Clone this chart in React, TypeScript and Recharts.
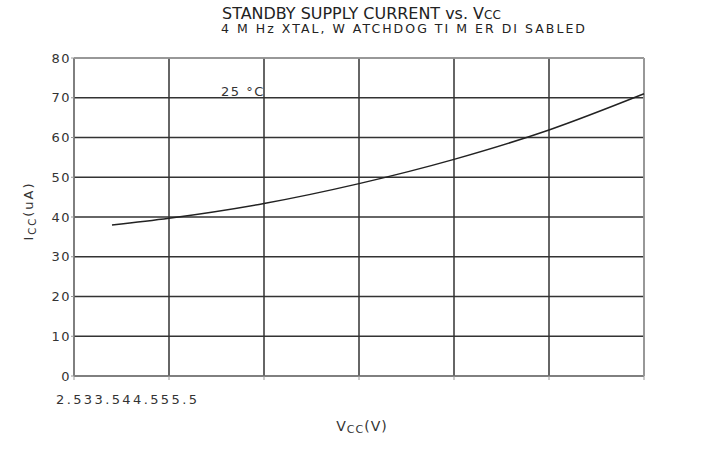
import React from "react";
import {
  LineChart,
  Line,
  XAxis,
  YAxis,
  CartesianGrid,
  ReferenceLine,
  ReferenceDot,
} from "recharts";

const vcc = [2.7, 3.0, 3.5, 4.0, 4.5, 5.0, 5.5];
const icc = [38, 39.7, 43.4, 48.4, 54.5, 61.9, 71];
const xTicks = [2.5, 3, 3.5, 4, 4.5, 5, 5.5];
const xTickLabels = ["2.5", "3", "3.5", "4", "4.5", "5", "5.5"];
const yTicks = [0, 10, 20, 30, 40, 50, 60, 70, 80];

const data = vcc.map((v, i) => ({ vcc: v, icc: icc[i] }));

const FONT = "'DejaVu Sans', Verdana, sans-serif";
const TEXT = "#333";

// the source plot squeezes all x tick labels into one run at the left
const XTick = (props: any) => {
  if (props.index !== 0) return null;
  return (
    <text
      x={56}
      y={404}
      fontSize={13}
      fontFamily={FONT}
      fill={TEXT}
      textLength={141}
      lengthAdjust="spacing"
    >
      {xTickLabels.join("")}
    </text>
  );
};

const XLabel = (props: any) => {
  const { viewBox } = props;
  return (
    <text
      x={viewBox.x + viewBox.width / 2 + 3}
      y={431}
      textAnchor="middle"
      fontSize={14}
      fontFamily={FONT}
      fill={TEXT}
      letterSpacing={1}
    >
      V<tspan fontSize={11} dy={2}>CC</tspan>
      <tspan dy={-2}>(V)</tspan>
    </text>
  );
};

const YLabel = (props: any) => {
  const { viewBox } = props;
  const cx = 33;
  const cy = viewBox.y + viewBox.height / 2 - 6;
  return (
    <text
      x={cx}
      y={cy}
      transform={`rotate(-90 ${cx} ${cy})`}
      textAnchor="middle"
      fontSize={13}
      fontFamily={FONT}
      fill={TEXT}
      letterSpacing={2}
    >
      I<tspan fontSize={10} dy={3}>CC</tspan>
      <tspan dy={-3}>(uA)</tspan>
    </text>
  );
};

const TempLabel = (props: any) => {
  const { viewBox } = props;
  return (
    <text
      x={viewBox.x}
      y={viewBox.y}
      fontSize={13}
      fontFamily={FONT}
      fill={TEXT}
      letterSpacing={1.5}
    >
      25 °C
    </text>
  );
};

export default function App() {
  return (
    <div style={{ position: "relative", width: 720, height: 449 }}>
      <style>{"body{margin:0}"}</style>
      <LineChart
        width={720}
        height={449}
        data={data}
        margin={{ top: 58, right: 76, bottom: 43, left: 0 }}
      >
        <CartesianGrid stroke="#333" strokeWidth={1.5} />
        <XAxis
          dataKey="vcc"
          type="number"
          domain={[2.5, 5.5]}
          ticks={xTicks}
          height={30}
          stroke="#999"
          tickSize={4}
          tick={<XTick />}
          label={<XLabel />}
        />
        <YAxis
          type="number"
          domain={[0, 80]}
          ticks={yTicks}
          width={74}
          stroke="#999"
          tickSize={3}
          tickMargin={0}
          tick={{ fontSize: 13, fontFamily: FONT, fill: TEXT, letterSpacing: 1.5 }}
          label={<YLabel />}
        />
        <ReferenceLine y={80} stroke="#aaa" strokeWidth={1.5} />
        <ReferenceLine x={5.5} stroke="#aaa" strokeWidth={1.5} />
        <ReferenceDot
          x={3.274}
          y={70.4}
          r={0}
          fill="none"
          stroke="none"
          label={<TempLabel />}
        />
        <Line
          type="monotone"
          dataKey="icc"
          stroke="#222"
          strokeWidth={1.5}
          dot={false}
          isAnimationActive={false}
        />
      </LineChart>
      <svg
        width={720}
        height={60}
        style={{ position: "absolute", left: 0, top: 0, pointerEvents: "none" }}
      >
        <text
          x={222}
          y={18.5}
          fontSize={15.5}
          fontFamily={FONT}
          fill="#222"
          textLength={262}
          lengthAdjust="spacingAndGlyphs"
        >
          STANDBY SUPPLY CURRENT vs. V
        </text>
        <text x={484} y={18.5} fontSize={12} fontFamily={FONT} fill="#222">
          CC
        </text>
        <text
          x={221}
          y={33}
          fontSize={12.5}
          fontFamily={FONT}
          fill="#222"
          textLength={364}
          lengthAdjust="spacing"
        >
          4 M Hz XTAL, W ATCHDOG TI M ER DI SABLED
        </text>
      </svg>
    </div>
  );
}
